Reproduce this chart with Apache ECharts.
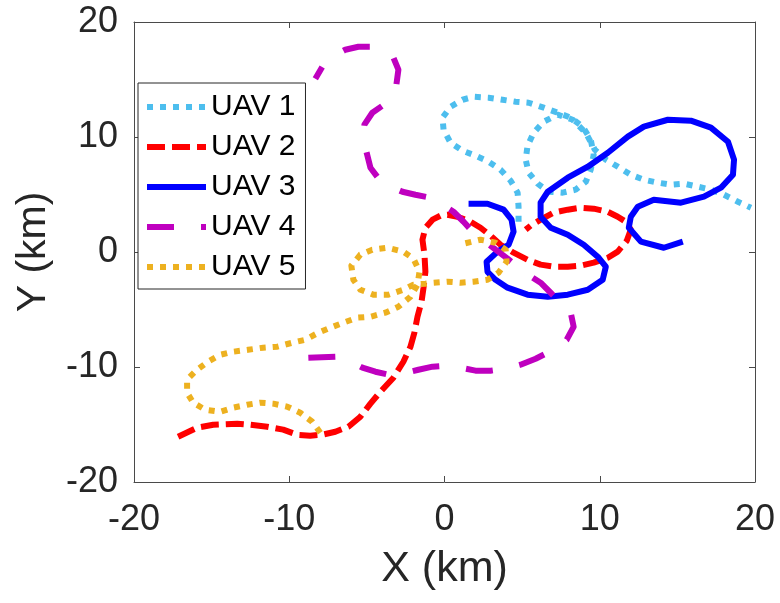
<!DOCTYPE html>
<html>
<head>
<meta charset="utf-8">
<script src="https://cdn.jsdelivr.net/npm/echarts@6/dist/echarts.min.js"></script>
<style>
  html, body { margin: 0; padding: 0; background: #ffffff; }
  #chart { width: 780px; height: 603px; }
</style>
</head>
<body>
<div id="chart"></div>
<script>
// Flight paths of five UAVs, positions in km
const uavNames = ['UAV 1', 'UAV 2', 'UAV 3', 'UAV 4', 'UAV 5'];

const uav1X = [4.77, 4.77, 4.71, 4.26, 3.61, 2.84, 2.00, 1.16, 0.39, -0.06, -0.13, 0.39, 1.16, 1.87, 2.84, 3.74, 4.58, 5.42, 6.39, 7.29, 8.13, 8.90, 9.42, 9.61, 9.42, 9.10, 8.45, 7.61, 6.71, 6.00, 5.42, 5.23, 5.35, 5.74, 6.39, 7.29, 8.26, 9.10, 9.68, 10.39, 11.16, 12.00, 12.84, 13.74, 14.58, 15.42, 16.32, 17.16, 18.00, 18.90, 19.74];
const uav1Y = [2.63, 3.94, 5.16, 6.20, 7.16, 7.85, 8.37, 8.81, 9.50, 10.63, 11.68, 12.63, 13.24, 13.50, 13.42, 13.24, 13.07, 12.98, 12.55, 12.11, 11.68, 10.90, 9.77, 8.46, 7.16, 6.11, 5.42, 5.16, 5.24, 5.94, 6.90, 8.03, 9.24, 10.37, 11.33, 11.94, 11.50, 10.37, 8.90, 8.03, 7.42, 6.72, 6.29, 6.03, 5.85, 5.94, 5.68, 5.42, 4.98, 4.37, 3.85];

const uav2X = [-17.16, -15.94, -14.90, -13.35, -12.52, -11.42, -10.39, -9.48, -8.65, -7.87, -7.03, -6.19, -5.42, -4.77, -4.13, -3.29, -2.65, -2.19, -1.94, -1.74, -1.48, -1.35, -1.23, -1.29, -1.42, -1.23, -0.77, -0.26, 0.19, 0.84, 1.68, 2.32, 2.97, 3.61, 4.45, 5.35, 6.19, 7.03, 7.94, 8.77, 9.61, 10.52, 11.16, 11.74, 12.00, 11.68, 11.16, 10.52, 9.61, 8.77, 7.94, 7.03, 6.19, 5.55, 5.23];
const uav2Y = [-16.06, -15.28, -15.02, -14.93, -15.02, -15.19, -15.45, -15.89, -15.97, -15.89, -15.63, -15.19, -14.32, -13.19, -12.15, -10.93, -9.54, -8.23, -7.02, -5.63, -4.32, -3.10, -1.71, -0.23, 1.07, 2.11, 2.81, 3.16, 3.24, 3.07, 2.63, 2.11, 1.42, 0.63, -0.06, -0.67, -1.10, -1.28, -1.28, -1.19, -0.93, -0.50, 0.03, 0.98, 1.94, 2.63, 3.07, 3.50, 3.77, 3.85, 3.68, 3.42, 2.81, 2.29, 1.94];

const uav3X = [1.55, 2.77, 3.81, 4.32, 4.45, 4.13, 3.42, 2.71, 2.77, 3.29, 4.06, 5.35, 6.65, 7.94, 9.23, 10.19, 10.39, 9.87, 8.97, 7.94, 6.84, 6.19, 6.19, 6.65, 7.94, 9.23, 10.52, 11.81, 12.84, 14.39, 15.87, 17.16, 18.26, 18.65, 18.58, 17.81, 16.71, 15.23, 13.48, 12.45, 12.00, 11.87, 12.65, 14.13, 15.35];
const uav3Y = [4.20, 4.20, 3.68, 2.81, 1.77, 0.63, 0.03, -0.85, -1.72, -2.42, -3.10, -3.71, -3.89, -3.71, -3.28, -2.41, -1.28, -0.41, 0.63, 1.50, 2.11, 3.07, 4.29, 5.24, 6.46, 7.42, 8.63, 10.03, 10.90, 11.50, 11.42, 10.81, 9.59, 8.03, 6.72, 5.59, 4.81, 4.29, 4.55, 3.94, 3.07, 2.11, 0.90, 0.37, 0.90];

const uav4X = [-8.77, -7.03, -6.06, -5.29, -4.45, -3.61, -2.71, -1.68, -0.77, 0.06, 1.03, 2.00, 2.97, 3.94, 4.90, 5.87, 7.03, 7.87, 8.32, 8.13, 7.61, 6.90, 6.19, 5.48, 4.77, 4.06, 3.29, 2.58, 1.87, 1.23, 0.58, -0.13, -0.90, -1.87, -2.71, -3.48, -4.19, -4.77, -5.03, -5.23, -5.16, -4.65, -4.00, -3.48, -3.10, -2.97, -3.29, -3.81, -4.65, -5.55, -6.39, -7.23, -7.87, -8.32];
const uav4Y = [-9.19, -9.10, -9.54, -10.06, -10.41, -10.67, -10.58, -10.24, -9.97, -9.89, -10.06, -10.32, -10.32, -10.15, -9.80, -9.28, -8.50, -7.63, -6.50, -5.28, -4.58, -3.63, -2.67, -2.06, -1.37, -0.58, 0.20, 0.98, 1.68, 2.63, 3.50, 4.11, 4.72, 4.98, 5.24, 5.68, 6.29, 7.33, 8.72, 9.94, 11.07, 12.11, 12.72, 13.42, 14.55, 15.85, 16.90, 17.42, 17.85, 17.85, 17.59, 16.98, 16.11, 15.07];

const uav5X = [-8.00, -8.52, -9.29, -10.13, -11.03, -11.87, -12.71, -13.61, -14.45, -15.42, -16.19, -16.58, -16.58, -15.94, -15.23, -14.45, -13.61, -12.65, -11.68, -10.77, -9.81, -8.97, -8.13, -7.35, -6.52, -5.61, -4.77, -3.81, -2.97, -2.19, -1.74, -1.61, -2.00, -2.65, -3.68, -4.65, -5.42, -6.00, -5.87, -5.42, -4.58, -3.61, -2.65, -2.00, -1.23, -0.71, 0.19, 1.03, 1.87, 2.77, 3.48, 4.00, 3.94, 3.29, 2.32, 1.23];
const uav5Y = [-15.71, -14.76, -13.98, -13.45, -13.19, -13.10, -13.28, -13.54, -13.89, -13.71, -13.10, -12.24, -11.10, -10.24, -9.54, -8.94, -8.67, -8.50, -8.32, -8.23, -7.89, -7.63, -7.02, -6.58, -6.15, -5.71, -5.63, -5.28, -4.76, -3.89, -2.84, -1.71, -0.58, 0.03, 0.37, 0.20, -0.23, -1.19, -2.41, -3.28, -3.71, -3.71, -3.28, -2.84, -2.76, -2.67, -2.58, -2.67, -2.58, -2.41, -1.80, -0.85, 0.20, 0.81, 1.07, 0.72];

const axisTicks = [-20, -10, 0, 10, 20];

const FONT = '"Liberation Sans", Helvetica, Arial, sans-serif';
const INK = '#262626';
const FRAME = '#4a4a4a';

function zipXY(xs, ys) {
  return xs.map((x, i) => [x, ys[i]]);
}

const paths = [
  { name: uavNames[0], xs: uav1X, ys: uav1Y, color: '#4DBEEE', dash: [6, 7] },
  { name: uavNames[1], xs: uav2X, ys: uav2Y, color: '#FF0000', dash: [18, 7] },
  { name: uavNames[2], xs: uav3X, ys: uav3Y, color: '#0000FF', dash: 'solid' },
  { name: uavNames[3], xs: uav4X, ys: uav4Y, color: '#BF00BF', dash: [27, 27] },
  { name: uavNames[4], xs: uav5X, ys: uav5Y, color: '#EDB120', dash: [6, 7] }
];

const tickMin = axisTicks[0];
const tickMax = axisTicks[axisTicks.length - 1];
const tickStep = axisTicks[1] - axisTicks[0];

function valueAxis(extra) {
  return Object.assign({
    type: 'value',
    min: tickMin,
    max: tickMax,
    interval: tickStep,
    splitLine: { show: false },
    axisLine: { show: true, onZero: false, lineStyle: { color: FRAME, width: 1 } },
    axisTick: { show: true, inside: true, length: 6, lineStyle: { color: FRAME, width: 1 } }
  }, extra);
}

const chart = echarts.init(document.getElementById('chart'), null, { renderer: 'canvas' });

chart.setOption({
  animation: false,
  backgroundColor: '#ffffff',
  textStyle: { fontFamily: FONT },
  grid: { left: 134, right: 25, top: 22, bottom: 121, containLabel: false, show: false },
  xAxis: [
    valueAxis({
      position: 'bottom',
      name: 'X (km)',
      nameLocation: 'middle',
      nameGap: 66,
      nameTextStyle: { fontFamily: FONT, fontSize: 43, color: INK },
      axisLabel: { fontFamily: FONT, fontSize: 36, color: INK, margin: 20 }
    }),
    valueAxis({ position: 'top', axisLabel: { show: false } })
  ],
  yAxis: [
    valueAxis({
      position: 'left',
      name: 'Y (km)',
      nameLocation: 'middle',
      nameGap: 80,
      nameTextStyle: { fontFamily: FONT, fontSize: 41, color: INK },
      axisLabel: { fontFamily: FONT, fontSize: 36, color: INK, margin: 16 }
    }),
    valueAxis({ position: 'right', axisLabel: { show: false } })
  ],
  legend: {
    orient: 'vertical',
    left: 138,
    top: 83,
    padding: [9, 10, 7, 6],
    itemWidth: 59,
    itemHeight: 30,
    itemGap: 10,
    backgroundColor: '#ffffff',
    borderColor: INK,
    borderWidth: 1,
    borderRadius: 0,
    textStyle: { fontFamily: FONT, fontSize: 30, color: '#000000', lineHeight: 30 },
    // line sample only, no marker on it
    itemStyle: { color: 'rgba(0,0,0,0)', borderColor: 'rgba(0,0,0,0)', borderWidth: 0, opacity: 0 },
    lineStyle: { width: 6 },
    data: uavNames
  },
  series: paths.map(p => ({
    name: p.name,
    type: 'line',
    xAxisIndex: 0,
    yAxisIndex: 0,
    data: zipXY(p.xs, p.ys),
    symbol: 'none',
    showSymbol: false,
    smooth: false,
    color: p.color,
    lineStyle: { color: p.color, width: 6, type: p.dash, cap: 'butt', join: 'round' }
  }))
});
</script>
</body>
</html>
